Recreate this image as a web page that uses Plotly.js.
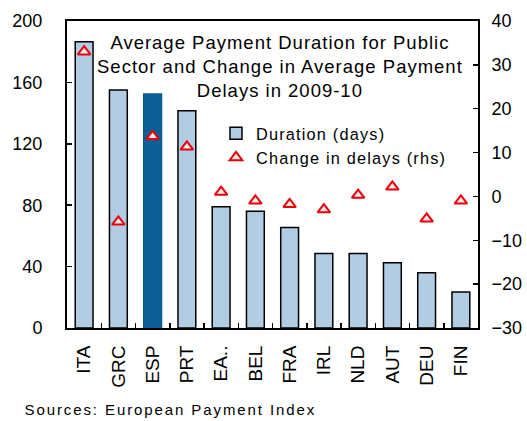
<!DOCTYPE html>
<html><head><meta charset="utf-8">
<script src="https://cdn.plot.ly/plotly-3.0.1.min.js"></script>
<style>
html,body{margin:0;padding:0;background:#fff}#chart{width:527px;height:421px}
.annotation[data-index="0"] text{letter-spacing:1px}
.annotation[data-index="1"] text{letter-spacing:1.9px}
.legendtext{letter-spacing:1.2px}
</style>
</head><body><div id="chart"></div>
<script>
const categories = ["ITA","GRC","ESP","PRT","EA..","BEL","FRA","IRL","NLD","AUT","DEU","FIN"];
const durationDays = [186.5,155,152.5,141.5,79,76,65.5,48.5,48.5,42.5,36,23.5];
const changeInDelays = [33,-5.8,13.7,11.3,1,-1,-1.8,-3,0.3,2.2,-5.1,-1];
const highlightCategory = "ESP";

const F = "Liberation Sans, Arial, sans-serif";
const barColors = categories.map(c => c === highlightCategory ? "#0B5E93" : "#B2CDE3");
const barLines = categories.map(c => c === highlightCategory ? "#0B5E93" : "#000");

const traces = [
  {type:"bar", x:categories, y:durationDays, name:"Duration (days)", width:0.52,
   marker:{color:barColors, line:{color:barLines, width:1.5}}, yaxis:"y"},
  {type:"scatter", mode:"markers", x:categories, y:changeInDelays, name:"Change in delays (rhs)",
   marker:{symbol:"triangle-up", size:11, color:"#FFE5E5", line:{color:"#E8000B", width:2}}, yaxis:"y2"}
];

const layout = {
  width:527, height:421,
  margin:{l:67, r:49, t:21, b:93},
  paper_bgcolor:"#fff", plot_bgcolor:"#fff",
  font:{family:F, size:17, color:"#000"},
  showlegend:true,
  legend:{x:0.3625, y:0.69, xanchor:"left", yanchor:"top", bgcolor:"rgba(0,0,0,0)",
          font:{family:F, size:16.3, color:"#000"}, itemwidth:30, tracegroupgap:0},
  xaxis:{type:"category", range:[-0.5, 11.5], automargin:false, showline:true, linecolor:"#000", linewidth:2, mirror:true,
         ticks:"inside", tickson:"boundaries", ticklen:5, tickcolor:"#000", tickwidth:1.5,
         tickangle:-90, tickfont:{family:F, size:19}, showgrid:false, zeroline:false, ticklabelstandoff:8},
  yaxis:{range:[0,200], dtick:40, automargin:false, showline:true, linecolor:"#000", linewidth:2,
         ticks:"inside", ticklen:5, tickcolor:"#000", tickwidth:1.5,
         tickfont:{family:F, size:18}, showgrid:false, zeroline:false, ticklabelstandoff:19},
  yaxis2:{range:[-30,40], dtick:10, automargin:false, overlaying:"y", side:"right", showline:true, linecolor:"#000", linewidth:2,
          ticks:"inside", ticklen:5, tickcolor:"#000", tickwidth:1.5,
          tickfont:{family:F, size:18}, showgrid:false, zeroline:false, ticklabelstandoff:8},
  bargap:0.48,
  annotations:[
    {xref:"paper", yref:"paper", x:0.519, y:0.853, xanchor:"center", yanchor:"middle", showarrow:false,
     text:"Average Payment Duration for Public<br>Sector and Change in Average Payment<br>Delays in 2009-10",
     font:{family:F, size:18.5, color:"#000"}, align:"center"},
    {xref:"paper", yref:"paper", x:0.253, y:-0.267, xanchor:"center", yanchor:"middle", showarrow:false,
     text:"Sources: European Payment Index", font:{family:F, size:15, color:"#000"}}
  ]
};
Plotly.newPlot("chart", traces, layout, {displayModeBar:false, staticPlot:true});
</script></body></html>
